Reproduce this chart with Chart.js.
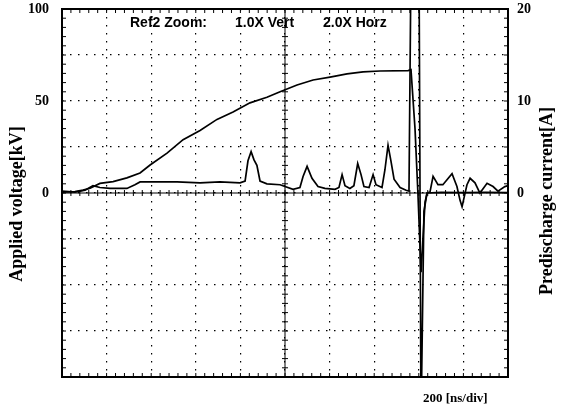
<!DOCTYPE html>
<html>
<head>
<meta charset="utf-8">
<script src="https://cdn.jsdelivr.net/npm/chart.js@4/dist/chart.umd.min.js"></script>
<style>
  body { margin: 0; background: #fff; }
  canvas { display: block; }
</style>
</head>
<body>
<canvas id="canvas" width="561" height="407"></canvas>
<script>
// time in ns (200 ns/div, 10 div)
var voltTime = [0, 58, 94, 126, 170, 229, 291, 350, 395, 471, 543, 619, 695, 767, 843, 919, 978,
    1054, 1126, 1202, 1278, 1350, 1426, 1552, 1565, 1583, 1596, 1610, 1628, 1637, 1700, 1800, 1900, 2000];
var voltage = [0.5, 0.8, 1.6, 2.6, 5.2, 6.2, 8.2, 10.9, 15.2, 21.7, 29, 34, 40, 44, 49, 52, 55,
    58.7, 61.4, 63, 64.7, 65.8, 66.3, 66.5, 67, 35, 0, -43, -5, 0, 0.3, 0.2, 0.3, 0.2];

var currTime = [0, 58, 103, 139, 170, 215, 291, 327, 350, 439, 516, 619, 708, 798, 821, 834, 848, 861,
    874, 888, 919, 978, 1036, 1067, 1081, 1099, 1121, 1148, 1179, 1224, 1242, 1256, 1269, 1291, 1309,
    1326, 1341, 1354, 1377, 1395, 1408, 1435, 1448, 1462, 1475, 1489, 1516, 1543, 1556, 1565, 1601,
    1610, 1623, 1637, 1650, 1664, 1686, 1708, 1749, 1771, 1785, 1794, 1803, 1816, 1830, 1852, 1874,
    1906, 1933, 1955, 1986, 2000];
var current = [0.2, 0.1, 0.3, 0.8, 0.6, 0.5, 0.5, 0.9, 1.2, 1.2, 1.2, 1.1, 1.2, 1.1, 1.3, 3.5, 4.5, 3.6,
    3.0, 1.3, 1.0, 0.9, 0.4, 0.6, 1.8, 2.9, 1.6, 0.7, 0.5, 0.4, 0.6, 2.0, 0.8, 0.5, 0.8,
    3.2, 2.0, 0.7, 0.6, 2.0, 0.9, 0.6, 2.5, 5.2, 3.5, 1.5, 0.6, 0.3, 0.2, 25, 25,
    -25, -2, 0, 0.1, 1.8, 0.9, 0.9, 2.1, 0.7, -0.8, -1.5, -0.5, 0.9, 1.6, 1.1, 0.0,
    1.05, 0.7, 0.2, 0.7, 0.8];

var voltTicks = [100, 50, 0];
var currTicks = [20, 10, 0];

function pts(xs, ys) {
    return xs.map(function(x, i) { return {x: x, y: ys[i]}; });
}

var serif = "'Liberation Serif', 'Times New Roman', serif";

var scopePlugin = {
    id: 'scope',
    afterDraw: function(chart) {
        var ctx = chart.ctx, a = chart.chartArea;
        var xs = chart.scales.x, ys = chart.scales.y;
        var cx = xs.getPixelForValue(1000), cy = ys.getPixelForValue(0);
        ctx.save();
        ctx.strokeStyle = '#000';
        // center lines
        ctx.lineWidth = 1;
        ctx.beginPath();
        ctx.moveTo(a.left, cy); ctx.lineTo(a.right, cy);
        ctx.moveTo(cx, a.top); ctx.lineTo(cx, a.bottom);
        ctx.stroke();
        // minor ticks
        ctx.beginPath();
        for (var t = 0; t <= 2000; t += 40) {
            var px = xs.getPixelForValue(t);
            ctx.moveTo(px, a.bottom); ctx.lineTo(px, a.bottom - 4);
            ctx.moveTo(px, a.top); ctx.lineTo(px, a.top + 4);
            ctx.moveTo(px, cy - 3); ctx.lineTo(px, cy + 3);
        }
        for (var v = -100; v <= 100; v += 5) {
            var py = ys.getPixelForValue(v);
            ctx.moveTo(a.left, py); ctx.lineTo(a.left + 4, py);
            ctx.moveTo(a.right, py); ctx.lineTo(a.right - 4, py);
            ctx.moveTo(cx - 3, py); ctx.lineTo(cx + 3, py);
        }
        ctx.stroke();
        // frame
        ctx.lineWidth = 2;
        ctx.strokeRect(a.left, a.top, a.right - a.left, a.bottom - a.top);

        // texts
        ctx.fillStyle = '#000';
        ctx.font = "bold 14px 'Liberation Sans', Arial, sans-serif";
        ctx.textBaseline = 'alphabetic';
        ctx.textAlign = 'left';
        ctx.fillText('Ref2 Zoom:', 130, 27);
        ctx.fillText('1.0X Vert', 235, 27);
        ctx.fillText('2.0X Horz', 323, 27);

        ctx.font = 'bold 13px ' + serif;
        ctx.fillText('200 [ns/div]', 423, 402);

        ctx.font = 'bold 18px ' + serif;
        ctx.textAlign = 'center';
        ctx.textBaseline = 'middle';
        ctx.save();
        ctx.translate(17, 204);
        ctx.rotate(-Math.PI / 2);
        ctx.fillText('Applied voltage[kV]', 0, 0);
        ctx.restore();
        ctx.save();
        ctx.translate(547, 201);
        ctx.rotate(-Math.PI / 2);
        ctx.fillText('Predischarge current[A]', 0, 0);
        ctx.restore();
        ctx.restore();
    }
};

window.onload = function() {
    var ctx = document.getElementById('canvas').getContext('2d');
    window.myChart = new Chart(ctx, {
        type: 'scatter',
        data: {
            datasets: [{
                label: 'Applied voltage',
                data: pts(voltTime, voltage),
                yAxisID: 'y',
                showLine: true,
                borderColor: '#000',
                borderWidth: 1.7,
                pointRadius: 0,
                tension: 0
            }, {
                label: 'Predischarge current',
                data: pts(currTime, current),
                yAxisID: 'y2',
                showLine: true,
                borderColor: '#000',
                borderWidth: 1.7,
                pointRadius: 0,
                tension: 0
            }]
        },
        options: {
            responsive: false,
            animation: false,
            devicePixelRatio: 1,
            layout: { padding: { top: 9, left: 0, right: 0, bottom: 0 } },
            plugins: {
                legend: { display: false },
                tooltip: { enabled: false }
            },
            scales: {
                x: {
                    type: 'linear',
                    min: 0,
                    max: 2000,
                    afterFit: function(s) { s.height = 30; },
                    ticks: { stepSize: 200, display: false },
                    grid: { color: '#000', lineWidth: 1.2, drawTicks: false },
                    border: { display: false, dash: [1.5, 6.5] }
                },
                y: {
                    position: 'left',
                    min: -100,
                    max: 100,
                    afterFit: function(s) { s.width = 62; },
                    ticks: {
                        stepSize: 25,
                        autoSkip: false,
                        padding: 0,
                        color: '#000',
                        font: { family: serif, weight: 'bold', size: 14 },
                        callback: function(v) { return voltTicks.indexOf(v) >= 0 ? String(v) : ''; }
                    },
                    grid: { color: '#000', lineWidth: 1.2, drawTicks: true, tickLength: 13, tickColor: 'rgba(0,0,0,0)' },
                    border: { display: false, dash: [1.5, 6.5] }
                },
                y2: {
                    position: 'right',
                    min: -20,
                    max: 20,
                    afterFit: function(s) { s.width = 53; },
                    ticks: {
                        stepSize: 5,
                        autoSkip: false,
                        padding: 0,
                        color: '#000',
                        font: { family: serif, weight: 'bold', size: 14 },
                        callback: function(v) { return currTicks.indexOf(v) >= 0 ? String(v) : ''; }
                    },
                    grid: { color: 'rgba(0,0,0,0)', drawOnChartArea: false, drawTicks: true, tickLength: 9, tickColor: 'rgba(0,0,0,0)' },
                    border: { display: false }
                }
            }
        },
        plugins: [scopePlugin]
    });
};
</script>
</body>
</html>
